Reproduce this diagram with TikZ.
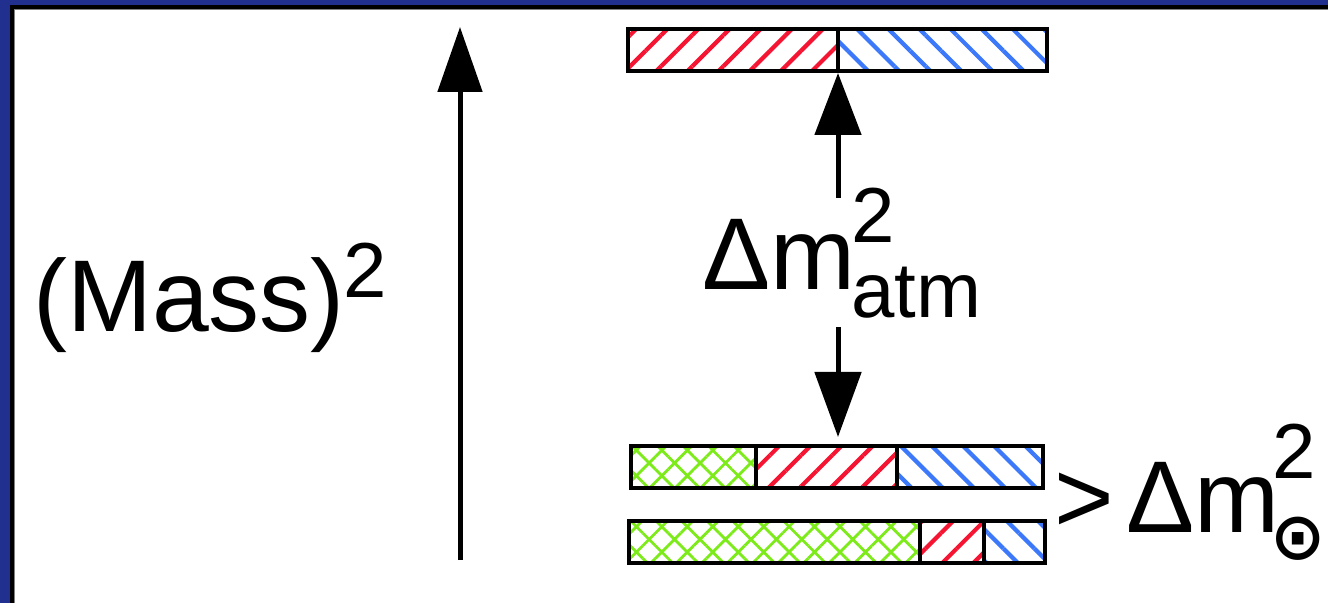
\documentclass[tikz,border=0pt]{standalone}
\usepackage{fontspec}
\setmainfont{Liberation Sans}
\newfontfamily\symfont{DejaVu Sans}
\usetikzlibrary{arrows.meta,patterns.meta}

\definecolor{framecol}{RGB}{33,48,143}
\definecolor{hatchred}{RGB}{245,20,50}
\definecolor{hatchblue}{RGB}{60,120,250}
\definecolor{hatchgreen}{RGB}{125,235,25}

\tikzset{
  bar/.style={draw=black,line width=3.5pt},
  redfill/.style={pattern={Lines[angle=45,distance=22pt,line width=4.2pt]},pattern color=hatchred},
  bluefill/.style={pattern={Lines[angle=-45,distance=22pt,line width=4.2pt]},pattern color=hatchblue},
  greenfill/.style={pattern={Hatch[angle=45,distance=18pt,line width=2.8pt]},pattern color=hatchgreen},
  bigtext/.style={font=\fontsize{102}{102}\selectfont,inner sep=0pt,anchor=base west},
  smalltext/.style={font=\fontsize{78}{78}\selectfont,inner sep=0pt,anchor=base west},
}

\begin{document}
\begin{tikzpicture}[x=1pt,y=1pt]
\useasboundingbox (0,0) rectangle (1328,603);
\fill[framecol] (0,0) rectangle (1328,603);
\fill[black] (10,0) rectangle (1328,598);
\fill[white] (14,0) rectangle (1328,594);
\draw[gray,line width=1pt] (14.5,0) -- (14.5,593.5) -- (1328,593.5);

% mass axis
\coordinate (massbot) at (460,43);
\coordinate (masstop) at (460,576);
\draw[line width=5pt,-{Triangle[length=65pt,width=44pt]}] (massbot) -- (masstop);
\node[bigtext] (mass) at (33,271) {(Mass)};
\node[smalltext] (masssq) at (343,305) {2};

% levels
\draw[bar,redfill] (628,532) rectangle (838,574);
\draw[bar,bluefill] (838,532) rectangle (1047,574);
\draw[bar,greenfill] (631,115) rectangle (756,157);
\draw[bar,redfill] (756,115) rectangle (897,157);
\draw[bar,bluefill] (897,115) rectangle (1043,157);
\draw[bar,greenfill] (629,40) rectangle (920,82);
\draw[bar,redfill] (920,40) rectangle (984,82);
\draw[bar,bluefill] (984,40) rectangle (1045,82);

% splittings
\node[bigtext] (atm) at (702,313) {Δm};
\node[smalltext] (atmsq) at (851,360) {2};
\node[smalltext] (atmsub) at (851,285) {atm};
\coordinate (atmup) at (838,405);
\coordinate (atmdown) at (838,276);
\coordinate (toplevel) at (838,530);
\coordinate (midlevel) at (838,166);
\draw[line width=5pt,-{Triangle[length=62pt,width=46pt]}] (atmup) -- (toplevel);
\draw[line width=5pt,-{Triangle[length=65pt,width=46pt]}] (atmdown) -- (midlevel);

\node[bigtext] (gt) at (1054,71) {>};
\node[bigtext] (sol) at (1126,71) {Δm};
\node[smalltext] (solsq) at (1272,125) {2};
\node[inner sep=0pt,font=\symfont\bfseries\fontsize{66}{66}\selectfont] (solsub) at (1298,64) {⊙};
\end{tikzpicture}
\end{document}
